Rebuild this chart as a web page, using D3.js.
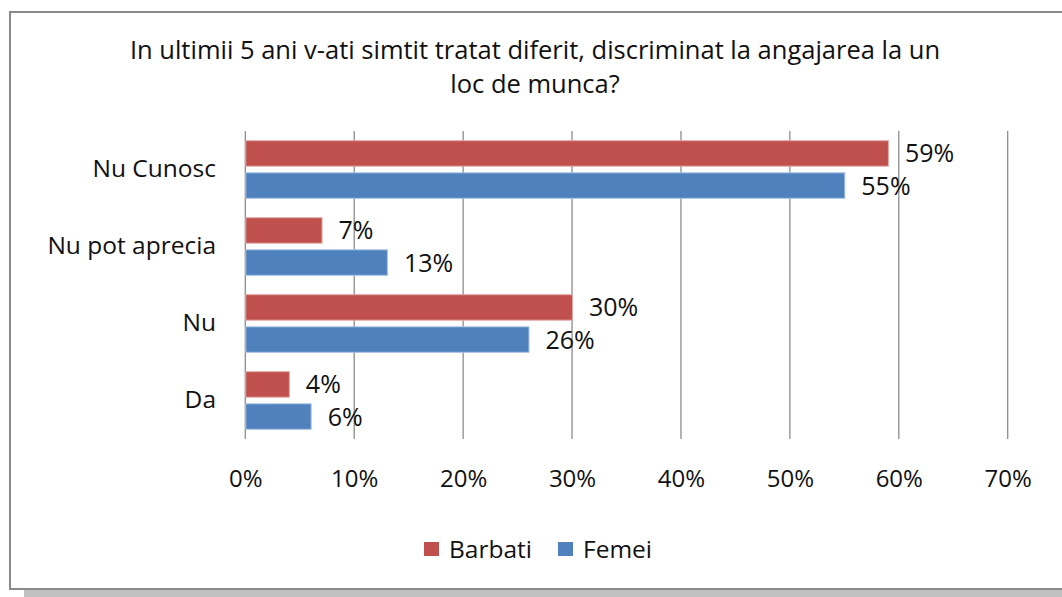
<!DOCTYPE html>
<html>
<head>
<meta charset="utf-8">
<script src="https://cdn.jsdelivr.net/npm/d3@7"></script>
<style>
  html, body { margin: 0; padding: 0; background: #ffffff; }
  svg { display: block; }
  text { font-family: "Open Sans", "DejaVu Sans", sans-serif; fill: #111111; }
</style>
</head>
<body>
<script>
// Survey answers by gender (percent)
const categories = ["Nu Cunosc", "Nu pot aprecia", "Nu", "Da"];
const seriesNames = ["Barbati", "Femei"];
const barbati = [59, 7, 30, 4];
const femei = [55, 13, 26, 6];
const tickValues = [0, 10, 20, 30, 40, 50, 60, 70];
const titleLines = [
  "In ultimii 5 ani v-ati simtit tratat diferit, discriminat la angajarea la un",
  "loc de munca?"
];
const colors = ["#C0504D", "#4F81BD"];

const W = 1062, H = 597;
const svg = d3.select("body").append("svg").attr("width", W).attr("height", H);

// chart frame with drop shadow
svg.append("rect").attr("x", 24).attr("y", 590).attr("width", W - 24).attr("height", 7)
  .attr("fill", "#c0c0c0");
svg.append("rect").attr("x", 10).attr("y", 12).attr("width", W + 20).attr("height", 577)
  .attr("fill", "#ffffff").attr("stroke", "#8a8a8a").attr("stroke-width", 2);

// title
svg.append("g").selectAll("text").data(titleLines).join("text")
  .attr("x", 535).attr("y", (d, i) => 59 + i * 34)
  .attr("text-anchor", "middle")
  .style("font-size", "25.5px")
  .text(d => d);

// scales
const x = d3.scaleLinear().domain([0, 70]).range([245.3, 1007.7]);
const y = d3.scaleBand().domain(categories).range([131, 439]).padding(0);
const ySub = d3.scaleBand().domain(seriesNames)
  .range([9.7, y.bandwidth() - 9.7]).paddingInner(0.206).paddingOuter(0);

// vertical gridlines
const grid = svg.append("g");
grid.selectAll("line").data(tickValues).join("line")
  .attr("x1", d => x(d)).attr("x2", d => x(d))
  .attr("y1", 131).attr("y2", 439)
  .attr("stroke", "#8c8c8c").attr("stroke-width", 1.3);

// x axis labels
const xAxis = d3.axisBottom(x).tickValues(tickValues).tickSize(0).tickPadding(0)
  .tickFormat(d => d + "%");
const gx = svg.append("g").attr("transform", "translate(0,470)").call(xAxis);
gx.select(".domain").remove();
gx.selectAll("text").style("font-size", "24px").attr("fill", "#111111")
  .attr("font-family", null);

// category labels
const yAxis = d3.axisLeft(y).tickSize(0).tickPadding(0);
const gy = svg.append("g").attr("transform", "translate(216,0)").call(yAxis);
gy.select(".domain").remove();
gy.selectAll("text").style("font-size", "24.5px").attr("fill", "#111111")
  .attr("font-family", null).attr("dy", "0.3em");

// bars
const rows = categories.map((c, i) => ({
  cat: c,
  vals: [{ s: "Barbati", v: barbati[i] }, { s: "Femei", v: femei[i] }]
}));

const groups = svg.append("g").selectAll("g").data(rows).join("g")
  .attr("transform", d => `translate(0,${y(d.cat)})`);

groups.selectAll("rect").data(d => d.vals).join("rect")
  .attr("x", x(0) + 0.5)
  .attr("y", d => ySub(d.s))
  .attr("width", d => x(d.v) - x(0))
  .attr("height", ySub.bandwidth())
  .attr("fill", (d, i) => colors[i])
  .attr("stroke", (d, i) => i === 0 ? "#e2a9a7" : "#a9c4e6")
  .attr("stroke-width", 1);

// value labels
groups.selectAll("text").data(d => d.vals).join("text")
  .attr("x", d => x(d.v) + 17)
  .attr("y", d => ySub(d.s) + ySub.bandwidth() / 2)
  .attr("dy", "0.36em")
  .style("font-size", "25px")
  .text(d => d.v + "%");

// legend
const legend = svg.append("g");
const legendX = [424, 558];
seriesNames.forEach((name, i) => {
  legend.append("rect").attr("x", legendX[i]).attr("y", 542).attr("width", 15).attr("height", 14)
    .attr("fill", colors[i]);
  legend.append("text").attr("x", legendX[i] + 25).attr("y", 549).attr("dy", "0.36em")
    .style("font-size", "24.5px").text(name);
});
</script>
</body>
</html>
